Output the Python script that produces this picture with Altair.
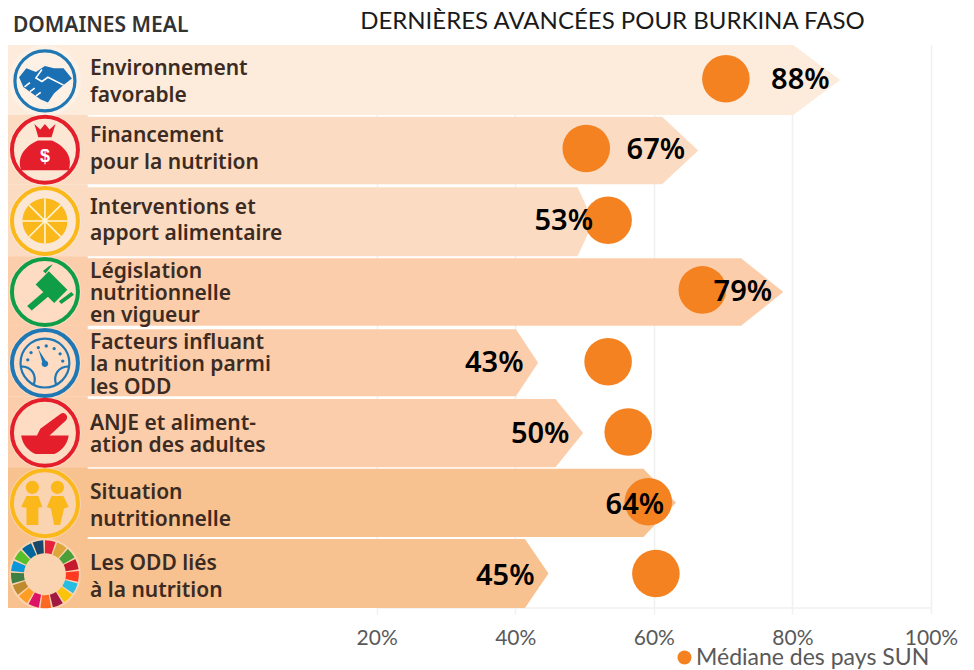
import math
import altair as alt
import pandas as pd

# ---- values
domains = ["Environnement favorable", "Financement pour la nutrition", "Interventions et apport alimentaire",
           "Législation nutritionnelle en vigueur", "Facteurs influant la nutrition parmi les ODD",
           "ANJE et alimentation des adultes", "Situation nutritionnelle", "Les ODD liés à la nutrition"]
row_labels = [["Environnement", "favorable"], ["Financement", "pour la nutrition"],
              ["Interventions et", "apport alimentaire"], ["Législation", "nutritionnelle", "en vigueur"],
              ["Facteurs influant", "la nutrition parmi", "les ODD"], ["ANJE et aliment-", "ation des adultes"],
              ["Situation", "nutritionnelle"], ["Les ODD liés", "à la nutrition"]]
percent = [88, 67, 53, 79, 43, 50, 64, 45]
median = [70.4, 50.25, 53.4, 67.0, 53.4, 56.3, 59.2, 60.3]
tips = [86.9, 66.4, 51.3, 78.7, 43.3, 49.8, 63.2, 44.8]
shoulders = [80.1, 61.2, 49.0, 72.6, 40.1, 45.8, 58.5, 41.4]
tops = [0.0, 1.02, 2.02, 3.03, 4.04, 5.03, 6.02, 7.02]
bottoms = [0.995, 1.98, 3.0, 3.99, 4.99, 6.0, 6.99, 8.0]
median_y = [0.48, 1.47, 2.49, 3.48, 4.50, 5.50, 6.49, 7.51]
label_x = [81.15, 60.29, 47.0, 72.85, 36.97, 43.6, 57.26, 38.56]
label_y = [0.5, 1.49, 2.5, 3.51, 4.52, 5.53, 6.54, 7.55]
row_colors = ["#fdebdc", "#fbdcc2", "#fbdcc2", "#fccdaa", "#fccdaa", "#fccdaa", "#f8c190", "#f8c190"]
text_y = [0.337, 1.289, 2.312, 3.221, 4.23, 5.382, 6.362, 7.371]
line_heights = [27, 27, 26.5, 22, 22.5, 22.5, 27, 27]
tick_values = [20, 40, 60, 80, 100]
X_MIN, X_TEXT, X_LEFT, X_ICON = -33.2, -21.37, -21.7, -27.87
icon_y = [0.51, 1.49, 2.5, 3.51, 4.52, 5.51, 6.51, 7.52]
ring_colors = ["#1f78b4", "#e41e2b", "#fbb81a", "#0f9d47", "#1f78b4", "#e41e2b", "#fbb81a"]
ring_d = [60, 66, 66, 66, 66, 66, 66]
sdg_colors = ["#e5243b", "#dda63a", "#4c9f38", "#c5192d", "#ff3a21", "#26bde2", "#fcc30b", "#a21942", "#fd6925",
              "#dd1367", "#fd9d24", "#bf8b2e", "#3f7e44", "#0a97d9", "#56c02b", "#00689d", "#19486a"]


def circ(cx, cy, r):
    return f"M{cx + r},{cy} A{r},{r} 0 1 1 {cx - r},{cy} A{r},{r} 0 1 1 {cx + r},{cy} Z "


# icon glyphs, in the symbol's own -1..1 box
glyph_fill = [
    (0, "M-.86,-.12 L-.62,-.42 L-.3,-.3 L0,-.5 L.3,-.42 L.62,-.42 L.9,-.08 L.62,.14 L.3,.42 L.1,.72 L-.14,.62 L-.42,.42 L-.72,.2 Z", "#1b6fb3"),
    (1, "M-.72,.62 C-.9,.1 -.42,-.2 -.2,-.28 L.2,-.28 C.42,-.2 .9,.1 .72,.62 Z M-.32,-.78 L-.14,-.62 L0,-.78 L.14,-.62 L.32,-.78 L.2,-.38 L-.2,-.38 Z", "#e41e2b"),
    (2, circ(0, 0, .68), "#fbb81a"),
    (3, "M.12,-.63 L.68,-.07 L.28,.33 L-.28,-.23 Z M-.02,-.02 L.12,.12 L-.4,.56 L-.54,.42 Z M.12,-.78 L.24,-.84 L.02,-.56 L-.06,-.64 Z M.8,.0 L.88,.08 L.5,.36 L.42,.28 Z", "#0f9d47"),
    (4, "M-.2,-.42 L.06,-.02 L-.04,.1 Z " + circ(.0, .02, .1) + circ(-.52, -.1, .05) + circ(-.42, -.32, .05) + circ(-.2, -.47, .05)
     + circ(.04, -.52, .05) + circ(.28, -.44, .05) + circ(.46, -.28, .05) + circ(.54, -.06, .05), "#1f78b4"),
    (5, "M-.72,.08 L.72,.08 C.68,.4 .42,.6 .28,.64 L-.28,.64 C-.42,.6 -.68,.4 -.72,.08 Z M-.24,.08 L-.14,-.12 L.48,-.58 C.6,-.66 .74,-.5 .64,-.38 L.14,.08 Z", "#e41e2b"),
    (6, circ(-.38, -.48, .2) + circ(.38, -.48, .2)
     + "M-.72,.12 L-.56,-.22 L-.2,-.22 L-.08,.12 L-.2,.14 L-.2,.66 L-.56,.66 L-.56,.14 Z M.06,.12 L.2,-.22 L.56,-.22 L.72,.12 L.58,.16 L.46,.66 L.28,.66 L.18,.16 Z", "#fbb81a"),
]
glyph_stroke = [
    (0, "M-.1,-.38 L-.3,-.1 L-.1,.02 L.1,-.12 L.62,.14 M-.68,.2 L-.5,.06 M-.5,.36 L-.34,.24 M-.3,.5 L-.14,.38", "#ffffff", 1.6),
    (2, "M0,-.68 L0,.68 M-.68,0 L.68,0 M-.48,-.48 L.48,.48 M-.48,.48 L.48,-.48", "#fff4d6", 1.6),
    (4, circ(0, 0, .74) + "M-.74,.1 C-.4,.1 -.24,.36 -.34,.66 M.74,.1 C.4,.1 .24,.36 .34,.66", "#1f78b4", 2.2),
]

# ---- tables
poly = []
for i, d in enumerate(domains):
    mid = (tops[i] + bottoms[i]) / 2
    for y, to in [(tops[i], shoulders[i]), (mid, tips[i]), (bottoms[i], shoulders[i])]:
        poly.append({"domaine": d, "py": y, "x0": X_MIN, "x1": to, "fill": row_colors[i]})
poly = pd.DataFrame(poly)

rows = pd.DataFrame({"domaine": domains, "pct": [f"{p}%" for p in percent], "median": median, "my": median_y,
                     "lx": label_x, "ly": label_y, "serie": "Médiane des pays SUN"})
left = pd.DataFrame({"y": [0] + bottoms[:-1], "y2": bottoms, "x": X_MIN, "x2": X_LEFT, "fill": row_colors})
texts = pd.DataFrame({"t": ["\n".join(l) for l in row_labels], "y": text_y, "x": X_TEXT, "lh": line_heights})
rings = pd.DataFrame({"x": X_ICON, "y": icon_y[:7], "c": ring_colors, "s": [d * d for d in ring_d]})
rings_w = [3.2, 4, 4, 4, 4, 4, 4]
rings["w"] = rings_w
halo = pd.DataFrame({"x": X_ICON, "y": icon_y, "s": [72 * 72] * 8})
gf = pd.DataFrame([{"x": X_ICON, "y": icon_y[r], "p": p, "c": c, "s": ring_d[r] ** 2} for r, p, c in glyph_fill])
gs = pd.DataFrame([{"x": X_ICON, "y": icon_y[r], "p": p, "c": c, "s": ring_d[r] ** 2, "w": w} for r, p, c, w in glyph_stroke])
sdg = pd.DataFrame({"i": list(range(17)), "i2": [k + 0.86 for k in range(17)], "c": sdg_colors,
                    "x": X_ICON, "y": icon_y[7]})
base_line = pd.DataFrame({"a": [tick_values[0]], "b": [tick_values[-1]], "y": [8.0]})
dollar = pd.DataFrame({"x": [X_ICON], "y": [icon_y[1] + 0.1], "t": ["$"]})

xs = alt.Scale(domain=[X_MIN, 100], nice=False, zero=False)
ys = alt.Scale(domain=[0, 8], reverse=True, nice=False, zero=False)
xa = alt.Axis(title=None,
        values=tick_values, labelExpr="datum.value + '%'", grid=True, gridColor="#f0f0f0", gridWidth=1.5,
        domain=False, tickColor="#f0f0f0", tickWidth=1.5, tickSize=6, labelFont="Lato", labelFontSize=21,
        labelColor="#595959", labelPadding=13, labelOverlap=False, labelFlush=False, labelBound=False)
FX = lambda f: alt.X(f, type="quantitative", scale=xs, axis=xa)
FY = lambda f: alt.Y(f, type="quantitative", scale=ys, axis=None)

ticks = alt.Chart(base_line).mark_rule(color="#f0f0f0", strokeWidth=1.6).encode(
    x=FX("a"), x2="b:Q", y=FY("y"))

area = alt.Chart(poly).mark_area(orient="horizontal").encode(
    y=FY("py"), x=FX("x0"), x2="x1:Q", detail="domaine:N", fill=alt.Fill("fill:N", scale=None))
left_rect = alt.Chart(left).mark_rect().encode(
    x=FX("x"), x2="x2:Q", y=FY("y"), y2="y2:Q", fill=alt.Fill("fill:N", scale=None))
halo_l = alt.Chart(halo).mark_point(filled=True, opacity=0.3, color="#ffffff", strokeWidth=0).encode(
    x=FX("x"), y=FY("y"), size=alt.Size("s:Q", scale=None))
ring_l = alt.Chart(rings).mark_point(filled=False, opacity=1).encode(
    x=FX("x"), y=FY("y"), stroke=alt.Stroke("c:N", scale=None), size=alt.Size("s:Q", scale=None),
    strokeWidth=alt.StrokeWidth("w:Q", scale=None))
gf_l = alt.Chart(gf).mark_point(filled=True, opacity=1, strokeWidth=0).encode(
    x=FX("x"), y=FY("y"), shape=alt.Shape("p:N", scale=None), fill=alt.Fill("c:N", scale=None),
    size=alt.Size("s:Q", scale=None))
gs_l = alt.Chart(gs).mark_point(filled=False, opacity=1).encode(
    x=FX("x"), y=FY("y"), shape=alt.Shape("p:N", scale=None), stroke=alt.Stroke("c:N", scale=None),
    size=alt.Size("s:Q", scale=None), strokeWidth=alt.StrokeWidth("w:Q", scale=None))
dollar_l = alt.Chart(dollar).mark_text(font="Liberation Sans", fontWeight="bold", fontSize=18, color="#ffffff").encode(
    x=FX("x"), y=FY("y"), text="t:N")
sdg_l = alt.Chart(sdg).mark_arc(innerRadius=21, outerRadius=34).encode(
    x=FX("x"), y=FY("y"),
    theta=alt.Theta("i:Q", scale=alt.Scale(domain=[0, 17], range=[0, 2 * math.pi])), theta2="i2:Q",
    fill=alt.Fill("c:N", scale=None))

label_layers = []
for lh in sorted(set(line_heights)):
    label_layers.append(
        alt.Chart(texts[texts.lh == lh]).mark_text(
            align="left", baseline="middle", lineBreak="\n", lineHeight=lh, font="Noto Sans",
            fontWeight=600, fontSize=21, color="#3b2b22").encode(x=FX("x"), y=FY("y"), text="t:N"))

dots = alt.Chart(rows).mark_point(filled=True, opacity=1, size=2266, strokeWidth=0).encode(
    x=FX("median"), y=FY("my"),
    color=alt.Color("serie:N", scale=alt.Scale(range=["#f58220"]), legend=alt.Legend(
        orient="none", legendX=665, legendY=601, title=None, symbolSize=196, symbolType="circle",
        labelFont="Lato", labelFontSize=23, labelOffset=0, labelColor="#595959", labelLimit=300, symbolOpacity=1)))
pct = alt.Chart(rows).mark_text(font="Noto Sans", fontWeight=600, fontSize=29, color="#000000").encode(
    x=FX("lx"), y=FY("ly"), text="pct:N")
heads = pd.DataFrame({"x": [(13 - 238) / 6.925, (360 - 238) / 6.925], "y": [-0.27, -0.32],
                      "t": ["DOMAINES MEAL", "DERNIÈRES AVANCÉES POUR BURKINA FASO"],
                      "w": [600, 400], "c": ["#333333", "#1a1a1a"]})
head = alt.Chart(heads[heads.w == 600]).mark_text(
    align="left", font="Noto Sans", fontWeight=600, fontSize=21, color="#333333").encode(
    x=FX("x"), y=FY("y"), text="t:N")
title = alt.Chart(heads[heads.w == 400]).mark_text(
    align="left", font="Lato", fontSize=24, color="#1a1a1a").encode(
    x=FX("x"), y=FY("y"), text="t:N")

chart = alt.layer(ticks, area, left_rect, halo_l, ring_l, sdg_l, gf_l, gs_l, dollar_l, *label_layers, dots, pct, head, title).properties(
    width=923, height=563,
    padding={"left": 0, "top": 37, "right": 35, "bottom": 61},
    autosize=alt.AutoSizeParams(type="none"),
).configure_view(stroke=None)

chart.save("out.html", embed_options={"renderer": "svg", "actions": False})
